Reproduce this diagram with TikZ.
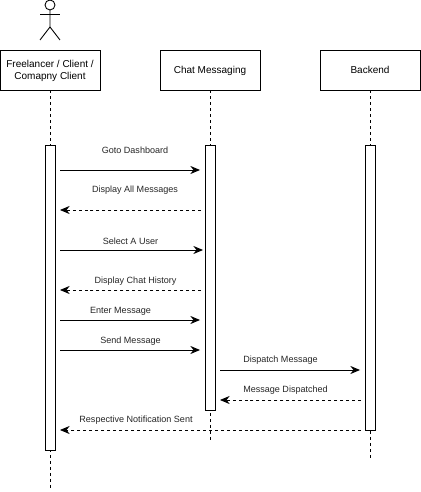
\documentclass[tikz,border=0pt]{standalone}
\usepackage{fontspec}
\setmainfont{Liberation Sans}
\usetikzlibrary{arrows.meta, positioning}
\tikzset{
    box/.style={draw, line width=0.5pt, minimum width=2cm, minimum height=0.8cm, align=center, inner sep=0pt, text depth=0pt, font=\fontsize{5.7pt}{6.9pt}\selectfont},
    bar/.style={draw, line width=0.5pt, fill=white, minimum width=0.2cm, inner sep=0pt, anchor=north},
    lifeline/.style={dashed, dash pattern=on 1.7pt off 1.7pt, line width=0.45pt},
    call/.style={-{Stealth[length=5.5pt, width=4.6pt]}, line width=0.5pt},
    reply/.style={-{Stealth[length=5.5pt, width=4.6pt]}, line width=0.45pt, dash pattern=on 1.7pt off 1.7pt},
    msg/.style={inner sep=0pt, font=\fontsize{5.15pt}{6.6pt}\selectfont, text=black!85}
}

\begin{document}
\begin{tikzpicture}[x=0.02cm, y=-0.02cm]
    \useasboundingbox (0,0) rectangle (421,492);
    % actor
    \draw[line width=0.5pt] (50,5) circle (5);
    \draw[line width=0.5pt] (50,10) -- (50,27) -- (40,40);
    \draw[line width=0.5pt] (50,27) -- (60,40);
    \draw[line width=0.5pt] (40,14) -- (60,14);
    % participants
    \node[box] (client) at (50,70) {Freelancer / Client /\\Comapny Client};
    \node[box] (chat) at (210,70) {Chat Messaging};
    \node[box] (backend) at (370,70) {Backend};
    % lifeline ends
    \coordinate (clientEnd) at (50,490);
    \coordinate (chatEnd) at (210,440);
    \coordinate (backendEnd) at (370,460);
    % lifelines
    \draw[lifeline] (client.south) -- (clientEnd);
    \draw[lifeline] (chat.south) -- (chatEnd);
    \draw[lifeline] (backend.south) -- (backendEnd);
    % activation bars
    \node[bar, minimum height=6.1cm] (clientBar) at (50,145) {};
    \node[bar, minimum height=5.3cm] (chatBar) at (210,145) {};
    \node[bar, minimum height=5.7cm] (backendBar) at (370,145) {};
    % message ends
    \coordinate (a1) at (60,170);
    \coordinate (b1) at (200,170);
    \coordinate (a2) at (60,210);
    \coordinate (b2) at (201,210);
    \coordinate (a3) at (60,250);
    \coordinate (b3) at (203,250);
    \coordinate (a4) at (60,290);
    \coordinate (b4) at (201,290);
    \coordinate (a5) at (60,320);
    \coordinate (b5) at (200,320);
    \coordinate (a6) at (60,350);
    \coordinate (b6) at (200,350);
    \coordinate (a7) at (220,370);
    \coordinate (b7) at (360,370);
    \coordinate (a8) at (220,400);
    \coordinate (b8) at (361,400);
    \coordinate (a9) at (60,430);
    \coordinate (b9) at (361,430);
    % messages
    \draw[call] (a1) -- (b1);
    \draw[reply] (b2) -- (a2);
    \draw[call] (a3) -- (b3);
    \draw[reply] (b4) -- (a4);
    \draw[call] (a5) -- (b5);
    \draw[call] (a6) -- (b6);
    \draw[call] (a7) -- (b7);
    \draw[reply] (b8) -- (a8);
    \draw[reply] (b9) -- (a9);
    % labels
    \node[msg] (m1) at (135,150.5) {Goto Dashboard};
    \node[msg] (m2) at (135,190.5) {Display All Messages};
    \node[msg] (m3) at (130.5,241) {Select A User};
    \node[msg] (m4) at (135.5,281) {Display Chat History};
    \node[msg] (m5) at (120.5,311.5) {Enter Message};
    \node[msg] (m6) at (130.5,341.5) {Send Message};
    \node[msg] (m7) at (280.5,360.5) {Dispatch Message};
    \node[msg] (m8) at (285.5,390.5) {Message Dispatched};
    \node[msg] (m9) at (136,420.5) {Respective Notification Sent};
\end{tikzpicture}
\end{document}
